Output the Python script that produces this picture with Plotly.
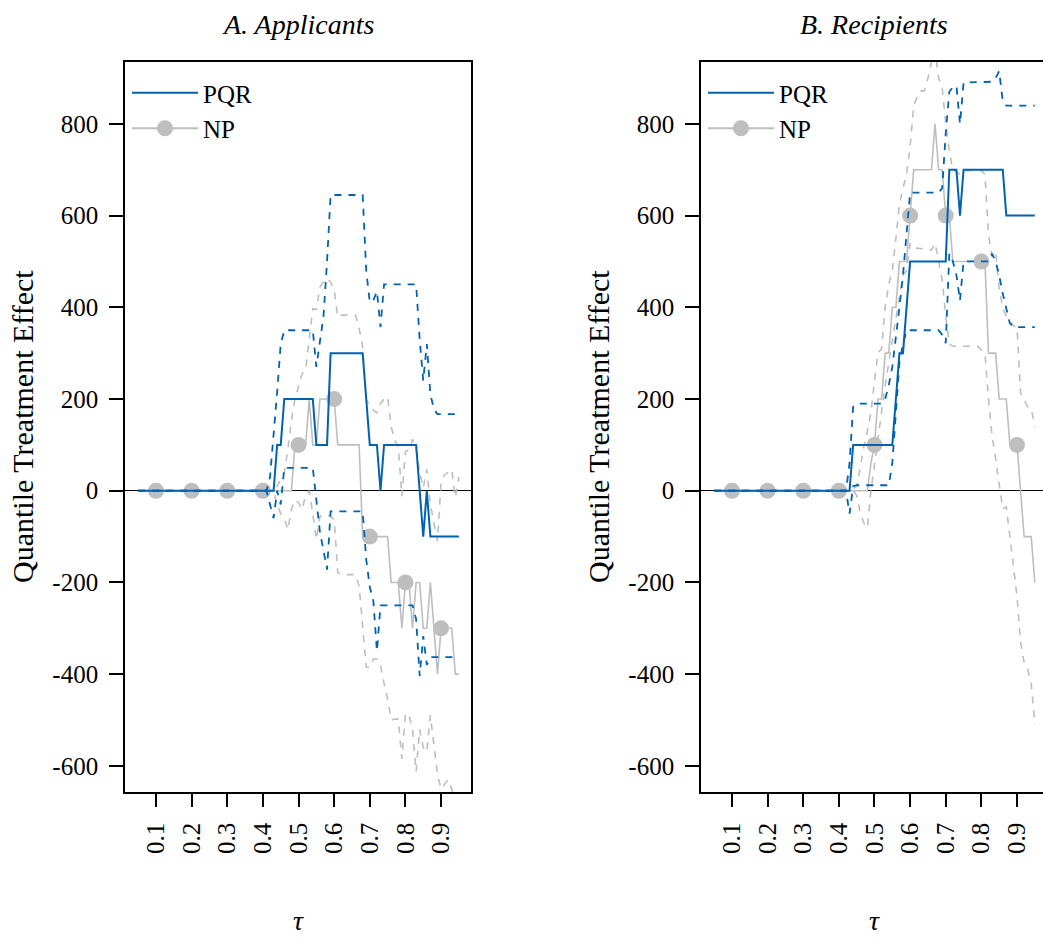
import plotly.graph_objects as go

# ---------------- Panel A: Applicants ----------------
a_pqr_tau = [0.05, 0.43, 0.44, 0.45, 0.46, 0.54, 0.55, 0.58, 0.59, 0.68, 0.70, 0.72, 0.73, 0.74, 0.83, 0.85, 0.86, 0.87, 0.95]
a_pqr_val = [0, 0, 100, 100, 200, 200, 100, 100, 300, 300, 100, 100, 0, 100, 100, -100, 0, -100, -100]

a_pqr_up_tau = [0.05, 0.41, 0.42, 0.43, 0.44, 0.45, 0.46, 0.54, 0.55, 0.56, 0.57, 0.58, 0.59, 0.68, 0.69, 0.70, 0.71, 0.72, 0.73, 0.74, 0.83, 0.84, 0.85, 0.86, 0.87, 0.88, 0.89, 0.95]
a_pqr_up_val = [0, 0, 30, 120, 215, 320, 350, 350, 270, 325, 380, 500, 645, 645, 480, 411, 415, 435, 357, 450, 450, 330, 240, 320, 210, 178, 167, 167]

a_pqr_lo_tau = [0.05, 0.41, 0.42, 0.43, 0.44, 0.45, 0.46, 0.54, 0.55, 0.56, 0.57, 0.58, 0.59, 0.68, 0.69, 0.70, 0.71, 0.72, 0.73, 0.82, 0.83, 0.84, 0.85, 0.86, 0.87, 0.95]
a_pqr_lo_val = [0, 0, -30, -60, 0, -30, 50, 50, -20, -90, -130, -172, -45, -45, -150, -210, -240, -350, -250, -250, -280, -404, -317, -380, -363, -363]

a_np_tau = [0.05, 0.48, 0.49, 0.52, 0.53, 0.54, 0.55, 0.56, 0.60, 0.61, 0.67, 0.68, 0.75, 0.76, 0.78, 0.79, 0.80, 0.81, 0.82, 0.83, 0.84, 0.85, 0.86, 0.87, 0.88, 0.89, 0.90, 0.93, 0.94, 0.95]
a_np_val = [0, 0, 100, 100, 200, 100, 100, 200, 200, 100, 100, -100, -100, -200, -200, -300, -200, -200, -300, -200, -200, -300, -300, -200, -300, -400, -300, -300, -400, -400]

a_np_up_tau = [0.05, 0.43, 0.44, 0.45, 0.46, 0.47, 0.48, 0.49, 0.50, 0.51, 0.52, 0.53, 0.54, 0.55, 0.56, 0.57, 0.58, 0.59, 0.60, 0.61, 0.62, 0.66, 0.67, 0.68, 0.69, 0.70, 0.71, 0.72, 0.73, 0.74, 0.75, 0.76, 0.77, 0.78, 0.79, 0.80, 0.81, 0.82, 0.83, 0.84, 0.85, 0.86, 0.87, 0.88, 0.89, 0.90, 0.91, 0.92, 0.93, 0.94, 0.95]
a_np_up_val = [0, 0, 10, 25, 40, 89, 154, 200, 227, 255, 263, 335, 397, 395, 444, 455, 463, 455, 437, 379, 383, 383, 355, 314, 198, 187, 175, 170, 190, 200, 205, 140, 110, 96, -12, 85, 90, 112, 90, 40, 6, 46, -30, -70, -110, 20, 35, 40, 46, -15, 30]

a_np_lo_tau = [0.05, 0.43, 0.44, 0.45, 0.46, 0.47, 0.48, 0.49, 0.50, 0.51, 0.52, 0.53, 0.54, 0.55, 0.56, 0.57, 0.58, 0.59, 0.60, 0.61, 0.62, 0.66, 0.67, 0.68, 0.69, 0.70, 0.71, 0.72, 0.73, 0.74, 0.75, 0.76, 0.77, 0.78, 0.79, 0.80, 0.81, 0.82, 0.83, 0.84, 0.85, 0.86, 0.87, 0.88, 0.89, 0.90, 0.91, 0.92, 0.93, 0.94, 0.95]
a_np_lo_val = [0, 0, -30, -50, -60, -85, -40, -20, -26, -41, -10, 0, -50, -106, -56, -52, -52, -56, -63, -178, -183, -183, -208, -300, -385, -385, -367, -367, -380, -420, -454, -500, -498, -498, -585, -485, -490, -520, -613, -520, -560, -570, -490, -555, -620, -650, -640, -630, -650, -680, -700]

a_dot_tau = [0.1, 0.2, 0.3, 0.4, 0.5, 0.6, 0.7, 0.8, 0.9]
a_dot_val = [0, 0, 0, 0, 100, 200, -100, -200, -300]

# ---------------- Panel B: Recipients ----------------
b_pqr_tau = [0.05, 0.43, 0.44, 0.55, 0.56, 0.57, 0.58, 0.60, 0.70, 0.71, 0.73, 0.74, 0.75, 0.86, 0.87, 0.95]
b_pqr_val = [0, 0, 100, 100, 200, 300, 300, 500, 500, 700, 700, 600, 700, 700, 600, 600]

b_pqr_up_tau = [0.05, 0.42, 0.43, 0.44, 0.45, 0.52, 0.53, 0.54, 0.55, 0.56, 0.57, 0.58, 0.59, 0.60, 0.68, 0.69, 0.70, 0.71, 0.72, 0.73, 0.74, 0.75, 0.83, 0.84, 0.85, 0.86, 0.87, 0.95]
b_pqr_up_val = [0, 0, 60, 183, 190, 190, 200, 230, 270, 330, 400, 470, 560, 650, 650, 660, 780, 870, 880, 883, 800, 890, 892, 900, 915, 850, 840, 840]

b_pqr_lo_tau = [0.05, 0.42, 0.43, 0.44, 0.45, 0.54, 0.55, 0.56, 0.57, 0.58, 0.59, 0.68, 0.69, 0.70, 0.71, 0.72, 0.73, 0.74, 0.75, 0.82, 0.83, 0.84, 0.85, 0.86, 0.87, 0.88, 0.89, 0.95]
b_pqr_lo_val = [0, 0, -50, 10, 12, 12, 60, 170, 280, 320, 350, 350, 340, 322, 517, 500, 470, 415, 500, 500, 517, 500, 470, 430, 400, 365, 357, 357]

b_np_tau = [0.05, 0.48, 0.49, 0.50, 0.51, 0.52, 0.53, 0.54, 0.55, 0.56, 0.57, 0.59, 0.60, 0.61, 0.66, 0.67, 0.68, 0.69, 0.70, 0.71, 0.72, 0.81, 0.82, 0.84, 0.85, 0.87, 0.88, 0.90, 0.91, 0.92, 0.94, 0.95]
b_np_val = [0, 0, 60, 100, 200, 200, 300, 300, 400, 400, 500, 500, 600, 700, 700, 800, 700, 700, 600, 600, 500, 500, 300, 300, 200, 200, 100, 100, 0, -100, -100, -200]

b_np_up_tau = [0.05, 0.43, 0.44, 0.45, 0.46, 0.47, 0.48, 0.49, 0.50, 0.51, 0.52, 0.53, 0.54, 0.55, 0.56, 0.57, 0.58, 0.59, 0.60, 0.61, 0.62, 0.63, 0.64, 0.65, 0.66, 0.67, 0.68, 0.69, 0.70, 0.71, 0.72, 0.73, 0.74, 0.75, 0.80, 0.81, 0.82, 0.83, 0.84, 0.85, 0.86, 0.87, 0.88, 0.89, 0.90, 0.91, 0.92, 0.93, 0.94, 0.95]
b_np_up_val = [0, 0, 5, 10, 50, 96, 130, 170, 240, 300, 310, 400, 450, 480, 550, 625, 660, 690, 750, 840, 860, 872, 872, 900, 935, 960, 900, 880, 800, 740, 700, 695, 690, 698, 698, 690, 560, 510, 520, 440, 400, 380, 370, 360, 357, 213, 198, 183, 180, 140]

b_np_lo_tau = [0.05, 0.44, 0.45, 0.46, 0.47, 0.48, 0.49, 0.50, 0.51, 0.52, 0.53, 0.54, 0.55, 0.56, 0.57, 0.58, 0.59, 0.60, 0.61, 0.66, 0.67, 0.68, 0.69, 0.70, 0.71, 0.72, 0.79, 0.80, 0.81, 0.82, 0.83, 0.84, 0.85, 0.86, 0.87, 0.88, 0.89, 0.90, 0.91, 0.92, 0.93, 0.94, 0.95]
b_np_lo_val = [0, 0, -10, -48, -70, -81, 0, 60, 120, 180, 230, 280, 330, 380, 420, 470, 480, 540, 530, 525, 540, 500, 460, 380, 320, 315, 315, 307, 300, 200, 120, 70, 20, -40, -35, -100, -160, -230, -330, -375, -390, -420, -510]

b_dot_tau = [0.1, 0.2, 0.3, 0.4, 0.5, 0.6, 0.7, 0.8, 0.9]
b_dot_val = [0, 0, 0, 0, 100, 600, 600, 500, 100]

# ---------------- Axis labels ----------------
x_ticks = [0.1, 0.2, 0.3, 0.4, 0.5, 0.6, 0.7, 0.8, 0.9]
x_ticktext = ["0.1", "0.2", "0.3", "0.4", "0.5", "0.6", "0.7", "0.8", "0.9"]
y_ticks = [-600, -400, -200, 0, 200, 400, 600, 800]
y_ticktext = ["-600", "-400", "-200", "0", "200", "400", "600", "800"]
panel_titles = ["A. Applicants", "B. Recipients"]
y_title = "Quantile Treatment Effect"
x_title = "τ"
legend_names = ["PQR", "NP"]

BLUE = "#0062B0"
GRAY = "#BEBEBE"
FONT = "Liberation Serif"
DASH = "7px,7px"

W, H = 1043, 940
fig = go.Figure()


def add_panel(xa, ya, legend, up_np, lo_np, np_line, dots, up_pqr, lo_pqr, pqr):
    for t, v in (up_np, lo_np):
        fig.add_trace(go.Scatter(x=t, y=v, mode="lines", xaxis=xa, yaxis=ya,
                                 line=dict(color=GRAY, width=1.6, dash=DASH),
                                 showlegend=False, hoverinfo="skip"))
    fig.add_trace(go.Scatter(x=np_line[0], y=np_line[1], mode="lines", xaxis=xa, yaxis=ya,
                             line=dict(color=GRAY, width=1.6), showlegend=False))
    fig.add_trace(go.Scatter(x=dots[0], y=dots[1], mode="markers", xaxis=xa, yaxis=ya,
                             marker=dict(color=GRAY, size=16), showlegend=False))
    for t, v in (up_pqr, lo_pqr):
        fig.add_trace(go.Scatter(x=t, y=v, mode="lines", xaxis=xa, yaxis=ya,
                                 line=dict(color=BLUE, width=1.8, dash=DASH),
                                 showlegend=False, hoverinfo="skip"))
    fig.add_trace(go.Scatter(x=pqr[0], y=pqr[1], mode="lines", xaxis=xa, yaxis=ya,
                             line=dict(color=BLUE, width=2), showlegend=False))
    # legend entries
    fig.add_trace(go.Scatter(x=[None], y=[None], mode="lines", xaxis=xa, yaxis=ya,
                             line=dict(color=BLUE, width=2), name=legend_names[0],
                             legend=legend, showlegend=True))
    fig.add_trace(go.Scatter(x=[None], y=[None], mode="lines+markers", xaxis=xa, yaxis=ya,
                             line=dict(color=GRAY, width=2), marker=dict(color=GRAY, size=16),
                             name=legend_names[1], legend=legend, showlegend=True))


add_panel("x", "y", "legend",
          (a_np_up_tau, a_np_up_val), (a_np_lo_tau, a_np_lo_val), (a_np_tau, a_np_val),
          (a_dot_tau, a_dot_val), (a_pqr_up_tau, a_pqr_up_val), (a_pqr_lo_tau, a_pqr_lo_val),
          (a_pqr_tau, a_pqr_val))
add_panel("x2", "y2", "legend2",
          (b_np_up_tau, b_np_up_val), (b_np_lo_tau, b_np_lo_val), (b_np_tau, b_np_val),
          (b_dot_tau, b_dot_val), (b_pqr_up_tau, b_pqr_up_val), (b_pqr_lo_tau, b_pqr_lo_val),
          (b_pqr_tau, b_pqr_val))

ydom = [1 - 792 / H, 1 - 62 / H]
xdomA = [125 / W, 471 / W]
xdomB = [701 / W, 1.0]
yrange = [-657, 935]

common_x = dict(tickmode="array", tickvals=x_ticks, ticktext=x_ticktext, tickangle=-90,
                ticks="outside", ticklen=13, tickwidth=1.5, tickcolor="black",
                showline=True, linecolor="black", linewidth=1.6, showgrid=False,
                zeroline=False, tickfont=dict(family=FONT, size=25, color="black"),
                ticklabelstandoff=6)
common_y = dict(tickmode="array", tickvals=y_ticks, ticktext=y_ticktext,
                ticks="outside", ticklen=14, tickwidth=1.5, tickcolor="black",
                showline=True, linecolor="black", linewidth=1.6, showgrid=False,
                zeroline=True, zerolinecolor="black", zerolinewidth=1,
                range=yrange, tickfont=dict(family=FONT, size=25, color="black"),
                ticklabelstandoff=6)

fig.update_layout(
    width=W, height=H, margin=dict(l=0, r=0, t=0, b=0),
    paper_bgcolor="white", plot_bgcolor="white",
    font=dict(family=FONT, color="black"),
    xaxis=dict(domain=xdomA, range=[0.013, 0.984], mirror=True, anchor="y", **common_x),
    yaxis=dict(domain=ydom, mirror=True, anchor="x", **common_y),
    xaxis2=dict(domain=xdomB, range=[0.013, 0.973], mirror=True, anchor="y2", **common_x),
    yaxis2=dict(domain=ydom, mirror=False, anchor="x2", **common_y),
    legend=dict(x=127 / W, y=1 - 70 / H, xanchor="left", yanchor="top",
                bgcolor="rgba(0,0,0,0)", font=dict(family=FONT, size=25),
                itemwidth=66, tracegroupgap=0),
    legend2=dict(x=703 / W, y=1 - 70 / H, xanchor="left", yanchor="top",
                 bgcolor="rgba(0,0,0,0)", font=dict(family=FONT, size=25),
                 itemwidth=66, tracegroupgap=0),
    showlegend=True,
)

for cx, title in ((298, panel_titles[0]), (874, panel_titles[1])):
    fig.add_annotation(x=cx / W, y=1 - 25 / H, xref="paper", yref="paper",
                       xanchor="center", yanchor="middle",
                       text=f"<i>{title}</i>", showarrow=False,
                       font=dict(family=FONT, size=28, color="black"))
    fig.add_annotation(x=cx / W, y=1 - 938 / H, xref="paper", yref="paper",
                       xanchor="center", yanchor="bottom",
                       text=f"<i>{x_title}</i>", showarrow=False,
                       font=dict(family=FONT, size=28, color="black"))

for cx in (22, 598):
    fig.add_annotation(x=cx / W, y=1 - 427 / H, xref="paper", yref="paper",
                       xanchor="center", yanchor="middle",
                       text=y_title, textangle=-90, showarrow=False,
                       font=dict(family=FONT, size=30, color="black"))

fig.write_html("out.html")
